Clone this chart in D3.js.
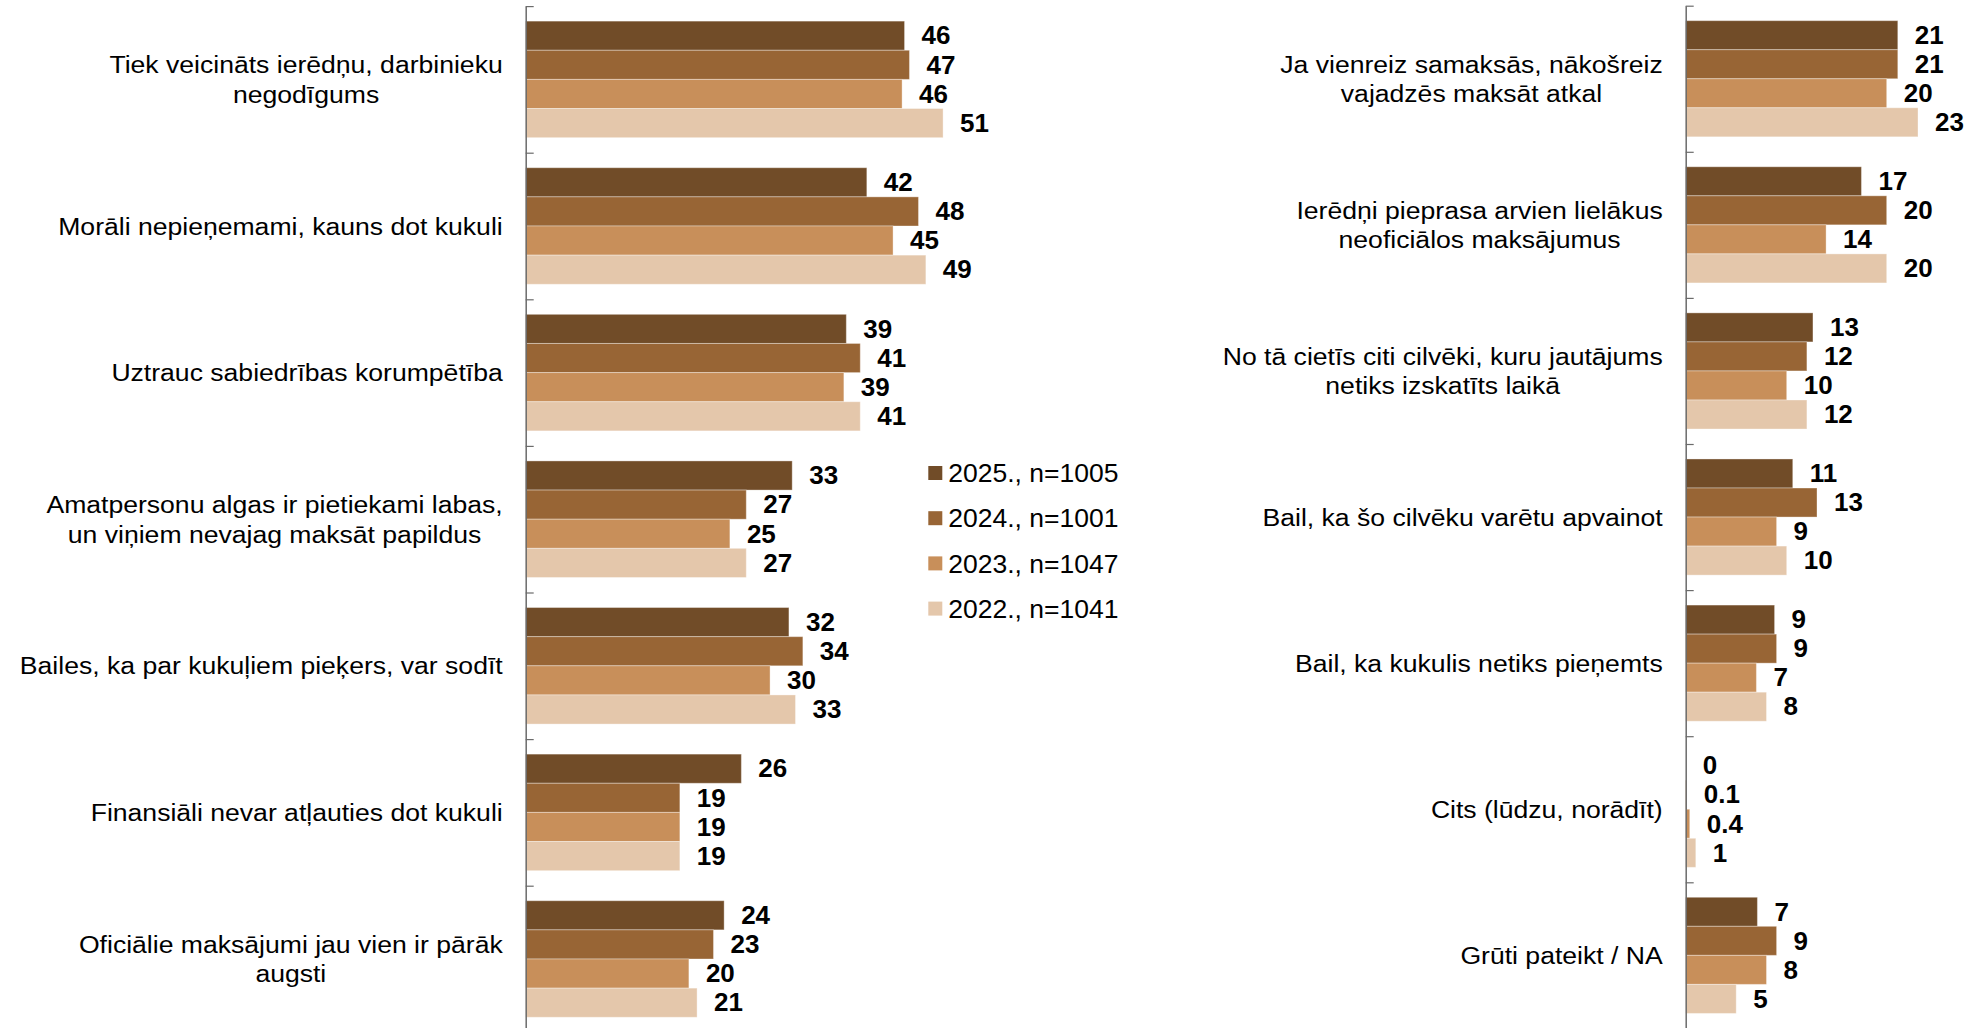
<!DOCTYPE html>
<html>
<head>
<meta charset="utf-8">
<script src="https://cdn.jsdelivr.net/npm/d3@7"></script>
<style>
  html, body { margin: 0; padding: 0; background: #fff; }
  svg { display: block; font-family: "Liberation Sans", Arial, sans-serif; }
</style>
</head>
<body>
<svg id="chart" width="1971" height="1028"></svg>
<script>
// ---- DATA ----
const series = ["2025., n=1005", "2024., n=1001", "2023., n=1047", "2022., n=1041"];
const colors = ["#714C28", "#986535", "#C88F5A", "#E4C7AB"];

const leftCategories = [
  "Tiek veicināts ierēdņu, darbinieku\nnegodīgums",
  "Morāli nepieņemami, kauns dot kukuli",
  "Uztrauc sabiedrības korumpētība",
  "Amatpersonu algas ir pietiekami labas,\nun viņiem nevajag maksāt papildus",
  "Bailes, ka par kukuļiem pieķers, var sodīt",
  "Finansiāli nevar atļauties dot kukuli",
  "Oficiālie maksājumi jau vien ir pārāk\naugsti"
];
const left2025 = [46.2, 41.6, 39.1, 32.5, 32.1, 26.3, 24.2];
const left2024 = [46.8, 47.9, 40.8, 26.9, 33.8, 18.8, 22.9];
const left2023 = [45.9, 44.8, 38.8, 24.9, 29.8, 18.8, 19.9];
const left2022 = [50.9, 48.8, 40.8, 26.9, 32.9, 18.8, 20.9];

const rightCategories = [
  "Ja vienreiz samaksās, nākošreiz\nvajadzēs maksāt atkal",
  "Ierēdņi pieprasa arvien lielākus\nneoficiālos maksājumus",
  "No tā cietīs citi cilvēki, kuru jautājums\nnetiks izskatīts laikā",
  "Bail, ka šo cilvēku varētu apvainot",
  "Bail, ka kukulis netiks pieņemts",
  "Cits (lūdzu, norādīt)",
  "Grūti pateikt / NA"
];
const right2025 = [21, 17.4, 12.6, 10.6, 8.8, 0, 7.1];
const right2024 = [21, 19.9, 12, 13, 9, 0.1, 9];
const right2023 = [19.9, 13.9, 10, 9, 7, 0.4, 8];
const right2022 = [23, 19.9, 12, 10, 8, 1, 5];

// ---- DRAW ----
const svg = d3.select("#chart");
const fmt = v => (v > 0 && v < 1) ? String(v) : String(Math.round(v));

function panel(cfg) {
  const g = svg.append("g");
  const n = cfg.categories.length;
  const bottom = cfg.top + n * cfg.step;
  const y0 = d3.scaleBand().domain(d3.range(n)).range([cfg.top, bottom]).padding(0);
  const bw = y0.bandwidth();
  const y1 = d3.scaleBand().domain(series).range([bw * 0.1025, bw * 0.8975]).padding(0);
  const x = d3.scaleLinear().domain([0, cfg.max]).range([cfg.x0, cfg.x0 + cfg.max * cfg.pxPerUnit]);

  const rows = cfg.categories.map((c, i) => ({
    cat: c, i,
    vals: series.map((s, k) => ({ s, k, v: cfg.values[k][i] }))
  }));

  const grp = g.selectAll("g.grp").data(rows).join("g")
    .attr("class", "grp")
    .attr("transform", d => `translate(0,${y0(d.i)})`);

  grp.selectAll("rect").data(d => d.vals).join("rect")
    .attr("x", x(0))
    .attr("y", d => y1(d.s))
    .attr("width", d => x(d.v) - x(0))
    .attr("height", y1.bandwidth())
    .attr("fill", d => colors[d.k])
    .attr("stroke", d => d.v > 0 ? "rgba(255,255,255,0.35)" : "none")
    .attr("stroke-width", 1);

  grp.selectAll("g.val").data(d => d.vals).join("g")
    .attr("class", "val")
    .attr("transform", d => `translate(${x(d.v) + 17},${y1(d.s) + y1.bandwidth() / 2}) scale(1.04,1)`)
    .append("text")
    .attr("dy", "0.35em")
    .attr("font-size", 25)
    .attr("font-weight", "bold")
    .attr("fill", "#000")
    .text(d => fmt(d.v));

  // category labels: block right-aligned, lines centered within block
  const sx = 1.085;
  const labG = grp.append("g")
    .attr("transform", `translate(${cfg.x0 - 23},${bw / 2}) scale(${sx},1)`);
  labG.each(function(d) {
    const lines = d.cat.split("\n");
    const lh = 29.5;
    const t = d3.select(this).append("text")
      .attr("text-anchor", "middle")
      .attr("font-size", 24.5)
      .attr("fill", "#000");
    const spans = lines.map((ln, j) => t.append("tspan")
      .attr("y", (j - (lines.length - 1) / 2) * lh)
      .attr("dy", "0.35em")
      .text(ln));
    const maxW = d3.max(spans, s => s.node().getComputedTextLength());
    spans.forEach(s => s.attr("x", -maxW / 2));
  });

  // axis with boundary ticks
  const yb = d3.scaleLinear().domain([0, n]).range([cfg.top, bottom]);
  const axis = d3.axisRight(yb).tickValues(d3.range(n)).tickSize(8).tickSizeOuter(0).tickFormat("");
  const ax = g.append("g").attr("transform", `translate(${cfg.x0},0)`).call(axis);
  ax.select(".domain").attr("stroke", "#6b6b6b").attr("stroke-width", 1.5);
  ax.selectAll(".tick line").attr("stroke", "#6b6b6b").attr("stroke-width", 1.2);
}

panel({
  categories: leftCategories,
  values: [left2025, left2024, left2023, left2022],
  x0: 525.7, top: 6.1, step: 146.6, max: 60, pxPerUnit: 8.2
});
panel({
  categories: rightCategories,
  values: [right2025, right2024, right2023, right2022],
  x0: 1685.7, top: 5.7, step: 146.1, max: 28, pxPerUnit: 10.1
});

// legend
const legend = svg.append("g").attr("transform", "translate(928.3,473)");
const li = legend.selectAll("g").data(series).join("g")
  .attr("transform", (d, i) => `translate(0,${i * 45.2})`);
li.append("rect").attr("x", 0).attr("y", -7).attr("width", 14).attr("height", 14)
  .attr("fill", (d, i) => colors[i]);
li.append("text").attr("x", 20).attr("y", 0).attr("dy", "0.35em")
  .attr("font-size", 26.5).attr("fill", "#000").text(d => d);
</script>
</body>
</html>
